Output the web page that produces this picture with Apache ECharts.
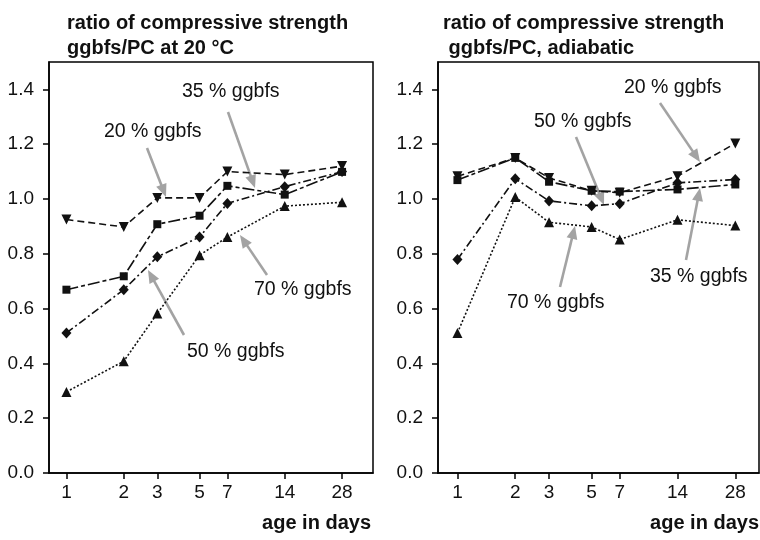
<!DOCTYPE html>
<html>
<head>
<meta charset="utf-8">
<script src="https://cdn.jsdelivr.net/npm/echarts@6/dist/echarts.min.js"></script>
<style>html,body{margin:0;padding:0;background:#fff}#c{width:760px;height:540px}</style>
</head>
<body>
<div id="c"></div>
<script>
// ---- data ----
const days = [1, 2, 3, 5, 7, 14, 28];
const xTickDays = [1, 2, 3, 5, 7, 14, 28];
const yTickValues = [0, 0.2, 0.4, 0.6, 0.8, 1.0, 1.2, 1.4];

// left panel: 20 °C
const t20_ggbfs35 = [0.925, 0.898, 1.004, 1.004, 1.100, 1.089, 1.120]; // down triangles
const t20_ggbfs20 = [0.669, 0.718, 0.908, 0.939, 1.048, 1.016, 1.099]; // squares
const t20_ggbfs50 = [0.511, 0.669, 0.789, 0.861, 0.984, 1.045, 1.100]; // diamonds
const t20_ggbfs70 = [0.296, 0.408, 0.582, 0.795, 0.861, 0.974, 0.988]; // up triangles

// right panel: adiabatic
const adi_downTri = [1.083, 1.150, 1.077, 1.030, 1.023, 1.083, 1.203];
const adi_square  = [1.069, 1.150, 1.063, 1.030, 1.027, 1.035, 1.053];
const adi_diamond = [0.779, 1.074, 0.993, 0.975, 0.983, 1.059, 1.071];
const adi_upTri   = [0.511, 1.007, 0.915, 0.898, 0.852, 0.924, 0.903];

const titles = ['ratio of compressive strength\nggbfs/PC at 20 °C', 'ratio of compressive strength\n ggbfs/PC, adiabatic'];
const xName = 'age in days';

// ---- chart ----
const FONT = '"Liberation Sans", Arial, Helvetica, sans-serif';
const pair = arr => days.map((d, i) => [d, arr[i]]);

const styles = {
  downTri: {symbol: 'triangle', symbolRotate: 180, symbolSize: 10, dash: [7, 4]},
  square: {symbol: 'rect', symbolRotate: 0, symbolSize: 8, dash: [12, 3, 4, 3]},
  diamond: {symbol: 'diamond', symbolRotate: 0, symbolSize: [10, 11], dash: [8, 3, 2, 3]},
  upTri: {symbol: 'triangle', symbolRotate: 0, symbolSize: 10, dash: [2, 2]}
};

function mkSeries(name, arr, st, idx) {
  const s = styles[st];
  return {
    name: name, type: 'line', xAxisIndex: idx, yAxisIndex: idx,
    data: pair(arr), symbol: s.symbol, symbolRotate: s.symbolRotate, symbolSize: s.symbolSize,
    showSymbol: true, animation: false, silent: true,
    lineStyle: {color: '#111', width: 1.6, type: s.dash},
    itemStyle: {color: '#111', borderWidth: 0}
  };
}

function xAxisCfg(idx, min, max) {
  return {
    type: 'log', logBase: 10, gridIndex: idx, min: min, max: max,
    axisLine: {show: true, onZero: false, lineStyle: {color: '#000', width: 1.5}},
    axisTick: {show: true, customValues: xTickDays, length: 6, lineStyle: {color: '#000', width: 1.5}},
    axisLabel: {customValues: xTickDays, margin: 10, fontSize: 19, color: '#111', fontFamily: FONT,
      formatter: v => String(Math.round(v))},
    minorTick: {show: false}, splitLine: {show: false}, minorSplitLine: {show: false}
  };
}
function yAxisCfg(idx) {
  return {
    type: 'value', gridIndex: idx, min: 0, max: 1.5,
    axisLine: {show: true, lineStyle: {color: '#000', width: 1.5}},
    axisTick: {show: true, customValues: yTickValues, length: 6, lineStyle: {color: '#000', width: 1.5}},
    axisLabel: {customValues: yTickValues, margin: 15, fontSize: 19, color: '#111', fontFamily: FONT,
      formatter: v => v.toFixed(1)},
    splitLine: {show: false}
  };
}

function arrow(x1, y1, x2, y2) {
  const L = 13, W = 5.5;
  const dx = x2 - x1, dy = y2 - y1, len = Math.hypot(dx, dy);
  const ux = dx / len, uy = dy / len;
  const bx = x2 - ux * L, by = y2 - uy * L;
  return [
    {type: 'line', silent: true, shape: {x1: x1, y1: y1, x2: bx + ux * 2, y2: by + uy * 2},
      style: {stroke: '#a3a3a3', lineWidth: 2.6}},
    {type: 'polygon', silent: true, shape: {points: [[x2, y2], [bx - uy * W, by + ux * W], [bx + uy * W, by - ux * W]]},
      style: {fill: '#a3a3a3'}}
  ];
}
function label(text, x, y) {
  return {type: 'text', silent: true, x: x, y: y,
    style: {text: text, font: '19.5px ' + FONT, fill: '#111', textAlign: 'left', textVerticalAlign: 'middle'}};
}

const graphics = [].concat(
  label('35 % ggbfs', 182, 92), arrow(228, 112, 255, 188),
  label('20 % ggbfs', 104, 132), arrow(147, 148, 166, 197),
  label('70 % ggbfs', 254, 290), arrow(267, 275, 240, 235),
  label('50 % ggbfs', 187, 352), arrow(184, 335, 148, 270),
  label('20 % ggbfs', 624, 88), arrow(660, 103, 700, 162),
  label('50 % ggbfs', 534, 122), arrow(576, 137, 604, 205),
  label('35 % ggbfs', 650, 277), arrow(686, 260, 700, 188),
  label('70 % ggbfs', 507, 303), arrow(560, 287, 575, 226),
  [{type: 'text', silent: true, x: 371, y: 523,
    style: {text: xName, font: 'bold 20px ' + FONT, fill: '#111', textAlign: 'right', textVerticalAlign: 'middle'}},
   {type: 'text', silent: true, x: 759, y: 523,
    style: {text: xName, font: 'bold 20px ' + FONT, fill: '#111', textAlign: 'right', textVerticalAlign: 'middle'}}]
);

const option = {
  backgroundColor: '#fff',
  animation: false,
  title: [
    {text: titles[0], left: 62, top: 6, textStyle: {fontSize: 20, fontWeight: 'bold', color: '#111', fontFamily: FONT, lineHeight: 25}},
    {text: titles[1], left: 438, top: 6, textStyle: {fontSize: 20, fontWeight: 'bold', color: '#111', fontFamily: FONT, lineHeight: 25}}
  ],
  grid: [
    {left: 49, top: 62, width: 324, height: 411, show: true, borderColor: '#000', borderWidth: 1.5, backgroundColor: 'transparent'},
    {left: 438, top: 62, width: 321, height: 411, show: true, borderColor: '#000', borderWidth: 1.5, backgroundColor: 'transparent'}
  ],
  xAxis: [xAxisCfg(0, 0.81, 40.7), xAxisCfg(1, 0.792, 37.2)],
  yAxis: [yAxisCfg(0), yAxisCfg(1)],
  series: [
    mkSeries('35 % ggbfs, 20 °C', t20_ggbfs35, 'downTri', 0),
    mkSeries('20 % ggbfs, 20 °C', t20_ggbfs20, 'square', 0),
    mkSeries('50 % ggbfs, 20 °C', t20_ggbfs50, 'diamond', 0),
    mkSeries('70 % ggbfs, 20 °C', t20_ggbfs70, 'upTri', 0),
    mkSeries('adiabatic, down triangles', adi_downTri, 'downTri', 1),
    mkSeries('adiabatic, squares', adi_square, 'square', 1),
    mkSeries('adiabatic, diamonds', adi_diamond, 'diamond', 1),
    mkSeries('adiabatic, up triangles', adi_upTri, 'upTri', 1)
  ],
  graphic: graphics
};

const chart = echarts.init(document.getElementById('c'), null, {renderer: 'canvas'});
chart.setOption(option);
</script>
</body>
</html>
